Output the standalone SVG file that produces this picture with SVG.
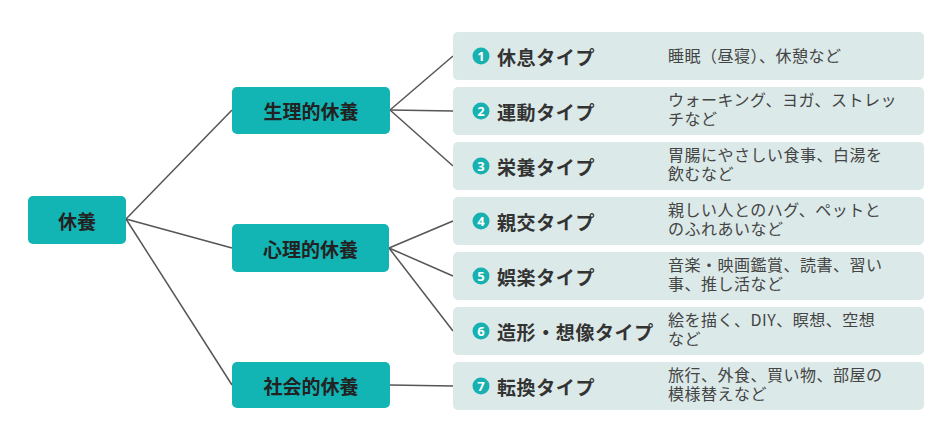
<svg xmlns="http://www.w3.org/2000/svg" width="945" height="432" viewBox="0 0 945 432">
<style>
.cat rect{fill:#12b4b4;}
.cat text{font-family:"Noto Sans CJK JP","Noto Sans",sans-serif;font-size:19px;font-weight:bold;fill:#222;text-anchor:middle;dominant-baseline:central;}
.leaf rect{fill:#dbe9e8;}
.leaf circle{fill:#17b1b1;}
.num{font-family:"Noto Sans","Noto Sans CJK JP",sans-serif;font-size:13px;font-weight:bold;fill:#fff;text-anchor:middle;dominant-baseline:central;}
.title{font-family:"Noto Sans CJK JP",sans-serif;font-size:19px;font-weight:bold;fill:#333;dominant-baseline:central;letter-spacing:0.6px;}
.desc{font-family:"Noto Sans CJK JP",sans-serif;font-size:16px;fill:#444;letter-spacing:0.5px;}
#connectors line{stroke:#555;stroke-width:1.5;}
</style>
<rect width="945" height="432" fill="#fff"/>
<g id="connectors">
<line x1="126" y1="219" x2="232" y2="110"/>
<line x1="126" y1="219" x2="232" y2="248"/>
<line x1="126" y1="219" x2="232" y2="385"/>
<line x1="390" y1="110" x2="453" y2="56"/>
<line x1="390" y1="110" x2="453" y2="111"/>
<line x1="390" y1="110" x2="453" y2="166"/>
<line x1="389" y1="248" x2="453" y2="221"/>
<line x1="389" y1="248" x2="453" y2="276"/>
<line x1="389" y1="248" x2="453" y2="331"/>
<line x1="390" y1="385" x2="453" y2="386"/>
</g>
<g id="root" class="cat"><rect x="28" y="196" width="98" height="48" rx="5"/><text x="77" y="220">休養</text></g>
<g id="physical" class="cat"><rect x="232" y="87" width="158" height="47" rx="5"/><text x="311" y="110.5">生理的休養</text></g>
<g id="mental" class="cat"><rect x="232" y="224" width="157" height="48" rx="5"/><text x="310.5" y="248">心理的休養</text></g>
<g id="social" class="cat"><rect x="232" y="362" width="158" height="46" rx="5"/><text x="311" y="385">社会的休養</text></g>
<g id="leaf1" class="leaf"><rect x="453" y="32" width="471" height="48" rx="5"/><circle cx="481" cy="56" r="8.5"/><text class="num" x="481" y="56">1</text><text class="title" x="497" y="56">休息タイプ</text><text class="desc" x="668" y="62">睡眠（昼寝）、休憩など</text></g>
<g id="leaf2" class="leaf"><rect x="453" y="87" width="471" height="48" rx="5"/><circle cx="481" cy="111" r="8.5"/><text class="num" x="481" y="111">2</text><text class="title" x="497" y="111">運動タイプ</text><text class="desc" x="668" y="105.5">ウォーキング、ヨガ、ストレッ<tspan x="668" dy="19.5">チなど</tspan></text></g>
<g id="leaf3" class="leaf"><rect x="453" y="142" width="471" height="48" rx="5"/><circle cx="481" cy="166" r="8.5"/><text class="num" x="481" y="166">3</text><text class="title" x="497" y="166">栄養タイプ</text><text class="desc" x="668" y="160.5">胃腸にやさしい食事、白湯を<tspan x="668" dy="19.5">飲むなど</tspan></text></g>
<g id="leaf4" class="leaf"><rect x="453" y="197" width="471" height="48" rx="5"/><circle cx="481" cy="221" r="8.5"/><text class="num" x="481" y="221">4</text><text class="title" x="497" y="221">親交タイプ</text><text class="desc" x="668" y="215.5">親しい人とのハグ、ペットと<tspan x="668" dy="19.5">のふれあいなど</tspan></text></g>
<g id="leaf5" class="leaf"><rect x="453" y="252" width="471" height="48" rx="5"/><circle cx="481" cy="276" r="8.5"/><text class="num" x="481" y="276">5</text><text class="title" x="497" y="276">娯楽タイプ</text><text class="desc" x="668" y="270.5">音楽・映画鑑賞、読書、習い<tspan x="668" dy="19.5">事、推し活など</tspan></text></g>
<g id="leaf6" class="leaf"><rect x="453" y="307" width="471" height="48" rx="5"/><circle cx="481" cy="331" r="8.5"/><text class="num" x="481" y="331">6</text><text class="title" x="497" y="331">造形・想像タイプ</text><text class="desc" x="668" y="325.5">絵を描く、DIY、瞑想、空想<tspan x="668" dy="19.5">など</tspan></text></g>
<g id="leaf7" class="leaf"><rect x="453" y="362" width="471" height="48" rx="5"/><circle cx="481" cy="386" r="8.5"/><text class="num" x="481" y="386">7</text><text class="title" x="497" y="386">転換タイプ</text><text class="desc" x="668" y="380.5">旅行、外食、買い物、部屋の<tspan x="668" dy="19.5">模様替えなど</tspan></text></g>
</svg>
